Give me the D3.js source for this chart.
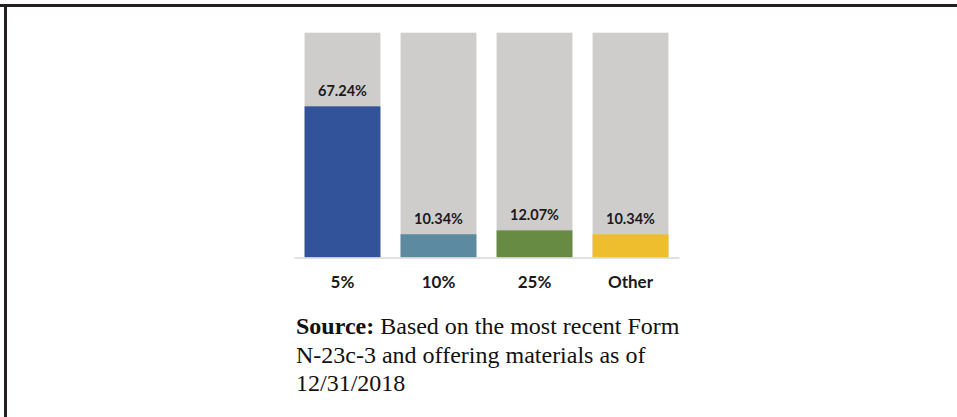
<!DOCTYPE html>
<html>
<head>
<meta charset="utf-8">
<script src="https://cdn.jsdelivr.net/npm/d3@7"></script>
<style>
  body { margin: 0; background: #fff; }
</style>
</head>
<body>
<svg id="chart"></svg>
<script>
const categories = ["5%", "10%", "25%", "Other"];
const values = [67.24, 10.34, 12.07, 10.34];
const barColors = ["#32539a", "#5b8aa1", "#678b43", "#efbe2f"];
const sourceLines = [
  ["Source:", " Based on the most recent Form"],
  ["", "N-23c-3 and offering materials as of"],
  ["", "12/31/2018"]
];

const W = 957, H = 417;
const svg = d3.select("#chart")
    .attr("width", W)
    .attr("height", H);

// frame (top + left edges only)
svg.append("rect").attr("x", 0).attr("y", 4).attr("width", W).attr("height", 3).attr("fill", "#231f20");
svg.append("rect").attr("x", 4).attr("y", 4).attr("width", 3).attr("height", H).attr("fill", "#231f20");

const x = d3.scaleBand()
    .domain(categories)
    .range([294, 679])
    .paddingInner(0.21)
    .paddingOuter(0.11);

const y = d3.scaleLinear()
    .domain([0, 100])
    .range([257.5, 32.7]);

const g = svg.append("g");

// grey background = 100%
g.selectAll("rect.bg")
    .data(categories)
    .enter().append("rect")
    .attr("class", "bg")
    .attr("x", d => x(d))
    .attr("y", y(100))
    .attr("width", x.bandwidth())
    .attr("height", y(0) - y(100))
    .attr("fill", "#cecdcb");

g.selectAll("rect.bar")
    .data(values)
    .enter().append("rect")
    .attr("class", "bar")
    .attr("x", (d, i) => x(categories[i]))
    .attr("y", d => y(d))
    .attr("width", x.bandwidth())
    .attr("height", d => y(0) - y(d))
    .attr("fill", (d, i) => barColors[i]);

g.selectAll("text.val")
    .data(values)
    .enter().append("text")
    .attr("class", "val")
    .attr("x", (d, i) => x(categories[i]) + x.bandwidth() / 2)
    .attr("y", d => y(d) - 10)
    .attr("text-anchor", "middle")
    .style("font-family", "Lato, sans-serif")
    .style("font-size", "14.5px")
    .style("font-weight", "bold")
    .attr("fill", "#1a1a1a")
    .text(d => d.toFixed(2) + "%");

// x axis
const xAxis = svg.append("g")
    .attr("transform", `translate(0, ${y(0)})`)
    .call(d3.axisBottom(x).tickSize(0).tickPadding(18));
xAxis.select(".domain").attr("stroke", "#d9d9d9").attr("stroke-width", 1.5);
xAxis.selectAll("text")
    .style("font-family", "Lato, sans-serif")
    .style("font-size", "17px")
    .style("font-weight", "bold")
    .attr("fill", "#1a1a1a");

// source note
const src = svg.append("text")
    .attr("x", 296)
    .attr("y", 334)
    .style("font-family", "'Liberation Serif', 'Times New Roman', serif")
    .style("font-size", "24px")
    .attr("fill", "#111");
sourceLines.forEach((line, i) => {
  const first = src.append("tspan")
      .attr("x", 296)
      .attr("dy", i === 0 ? 0 : 28.7);
  if (line[0]) {
    first.style("font-weight", "bold").text(line[0]);
    src.append("tspan").text(line[1]);
  } else {
    first.text(line[1]);
  }
});
</script>
</body>
</html>
